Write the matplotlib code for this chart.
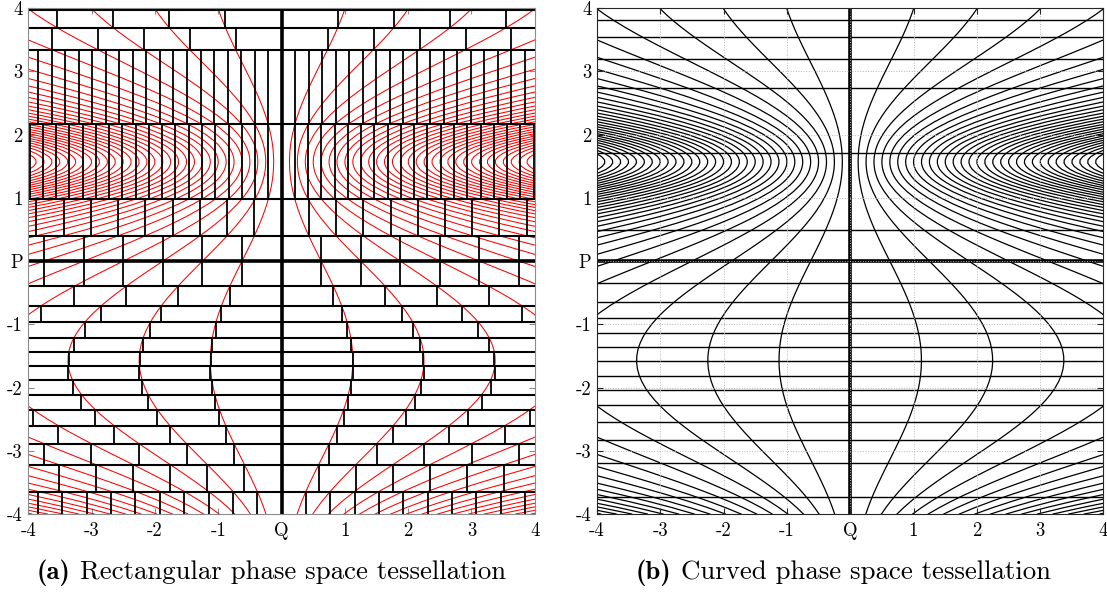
import numpy as np
import matplotlib
matplotlib.use("Agg")
import matplotlib.pyplot as plt

plt.rcParams["font.family"] = "cmr10"
plt.rcParams["axes.unicode_minus"] = False

# spacing of neighbouring flow curves along Q at each P
P_PROFILE = [-4.0, -3.9, -3.8, -3.7, -3.6, -3.5, -3.4, -3.3, -3.2, -3.1,
             -3.0, -2.9, -2.8, -2.7, -2.6, -2.5, -2.4, -2.3, -2.2, -2.1,
             -2.0, -1.9, -1.8, -1.7, -1.6, -1.5, -1.4, -1.3, -1.2, -1.1,
             -1.0, -0.9, -0.8, -0.7, -0.6, -0.5, -0.4, -0.3, -0.2, -0.1,
             0.0, 0.1, 0.2, 0.3, 0.4, 0.5, 0.6, 0.7, 0.8, 0.9,
             1.0, 1.1, 1.2, 1.25, 1.3, 1.35, 1.4, 1.45, 1.5, 1.55,
             1.6, 1.65, 1.7, 1.75, 1.8, 1.85, 1.9, 2.0, 2.1, 2.2,
             2.3, 2.4, 2.5, 2.6, 2.7, 2.8, 2.9, 3.0, 3.1, 3.2,
             3.3, 3.4, 3.5, 3.6, 3.7, 3.8, 3.9, 4.0]
S_PROFILE = [0.2466, 0.2811, 0.3191, 0.3601, 0.4037, 0.4496, 0.4972, 0.5461, 0.5958, 0.6458,
             0.6956, 0.7446, 0.7925, 0.8387, 0.8828, 0.9242, 0.9627, 0.9979, 1.0293, 1.0566,
             1.0797, 1.0982, 1.1119, 1.1208, 1.1248, 1.1237, 1.1177, 1.1068, 1.0910, 1.0706,
             1.0457, 1.0167, 0.9837, 0.9471, 0.9073, 0.8647, 0.8197, 0.7728, 0.7243, 0.6749,
             0.6250, 0.5751, 0.5257, 0.4772, 0.4303, 0.3853, 0.3427, 0.3029, 0.2663, 0.2333,
             0.2043, 0.1794, 0.1590, 0.1505, 0.1432, 0.1371, 0.1323, 0.1286, 0.1263, 0.1251,
             0.1252, 0.1266, 0.1292, 0.1330, 0.1381, 0.1443, 0.1519, 0.1704, 0.1934, 0.2207,
             0.2521, 0.2873, 0.3258, 0.3672, 0.4113, 0.4575, 0.5054, 0.5544, 0.6042, 0.6542,
             0.7039, 0.7528, 0.8004, 0.8463, 0.8899, 0.9309, 0.9689, 1.0034]
CURVE_LEVELS = list(range(1, 32))

# panel (a): rows of the rectangular tessellation (edge P, cell width in Q)
ROW_EDGES_UP = [0.0, 0.400, 0.981, 2.174, 3.347, 3.690, 3.973]
ROW_WIDTHS_UP = [0.625, 0.4303, 0.2095, 0.2134, 0.7264, 0.8857, 0.9943]
ROW_EDGES_DOWN = [0.0, -0.400, -0.705, -0.968, -1.209, -1.438, -1.661,
                  -1.884, -2.111, -2.348, -2.603, -2.887, -3.220, -3.647]
ROW_WIDTHS_DOWN = [0.625, 0.8197, 0.9493, 1.0368, 1.0926, 1.1206, 1.1230,
                   1.1007, 1.0538, 0.9814, 0.8813, 0.7507, 0.5858, 0.3846]

# panel (b): horizontal lines of the curved tessellation
H_LINES = [-3.738, -3.201, -2.837, -2.540, -2.280, -2.039, -1.810, -1.587,
           -1.364, -1.137, -0.898, -0.641, -0.351, 0.497, 1.715, 2.735,
           3.199, 3.538, 3.822]

TICKS = [-4, -3, -2, -1, 0, 1, 2, 3, 4]
XTICKLABELS = ["-4", "-3", "-2", "-1", "Q", "1", "2", "3", "4"]
YTICKLABELS = ["-4", "-3", "-2", "-1", "P", "1", "2", "3", "4"]

CAPTIONS = [("(a)", "Rectangular phase space tessellation"),
            ("(b)", "Curved phase space tessellation")]

LIM = 4.0
prof_p = np.array(P_PROFILE)
prof_s = np.array(S_PROFILE)


def draw_curves(ax, color, lw):
    for k in CURVE_LEVELS:
        for sign in (1, -1):
            ax.plot(sign * k * prof_s, prof_p, color=color, lw=lw, zorder=2)


def style_axes(ax, spine_color):
    ax.set_xlim(-LIM, LIM)
    ax.set_ylim(-LIM, LIM)
    ax.set_xticks(TICKS)
    ax.set_yticks(TICKS)
    ax.set_xticklabels(XTICKLABELS)
    ax.set_yticklabels(YTICKLABELS)
    ax.tick_params(direction="in", length=4, width=0.8, top=True, right=True,
                   labelsize=13.5, color=spine_color)
    ax.tick_params(axis="x", pad=6)
    ax.tick_params(axis="y", pad=4)
    for sp in ax.spines.values():
        sp.set_color(spine_color)
        sp.set_linewidth(0.8)
        sp.set_zorder(8)


fig = plt.figure(figsize=(11.07, 5.94), dpi=100)
ax_a = fig.add_axes([0.0256, 0.1347, 0.4575, 0.8514])
ax_b = fig.add_axes([0.5393, 0.1347, 0.4575, 0.8514])

# ---- (a) rectangular tessellation
draw_curves(ax_a, "red", 0.75)
rows = []
for i, (p0, w) in enumerate(zip(ROW_EDGES_UP, ROW_WIDTHS_UP)):
    p1 = ROW_EDGES_UP[i + 1] if i + 1 < len(ROW_EDGES_UP) else LIM
    rows.append((p0, p1, w))
for i, (p0, w) in enumerate(zip(ROW_EDGES_DOWN, ROW_WIDTHS_DOWN)):
    p1 = ROW_EDGES_DOWN[i + 1] if i + 1 < len(ROW_EDGES_DOWN) else -LIM
    rows.append((p1, p0, w))
for lo, hi, w in rows:
    n = int(LIM / w) + 1
    xs = np.arange(-n, n + 1) * w
    xs = xs[np.abs(xs) <= LIM]
    ax_a.vlines(xs, lo, hi, color="k", lw=1.3, zorder=3)
ax_a.hlines(ROW_EDGES_UP[1:] + ROW_EDGES_DOWN[1:], -LIM, LIM, color="k", lw=1.5, zorder=3)
ax_a.axhline(0, color="k", lw=2.6, zorder=4)
ax_a.axvline(0, color="k", lw=2.6, zorder=4)
style_axes(ax_a, "0.55")

# ---- (b) curved tessellation
draw_curves(ax_b, "k", 0.9)
ax_b.hlines(H_LINES, -LIM, LIM, color="k", lw=1.0, zorder=2.1)
ax_b.axhline(0, color="k", lw=2.6, zorder=2.2)
ax_b.axvline(0, color="k", lw=2.6, zorder=2.2)
ax_b.set_axisbelow(False)
ax_b.grid(True, linestyle=":", color="0.72", lw=0.7)
style_axes(ax_b, "0.15")

# captions, bold tag followed by normal text
fig.canvas.draw()
for (tag, txt), x0 in zip(CAPTIONS, [0.0334, 0.5745]):
    t = fig.text(x0, 0.026, tag, fontfamily="cmb10", fontsize=19.3, va="baseline")
    fig.canvas.draw()
    bb = t.get_window_extent()
    fig.text(bb.x1 / fig.bbox.width + 0.0085, 0.026, txt, fontsize=19.3, va="baseline")

fig.savefig("out.png", dpi=100)
